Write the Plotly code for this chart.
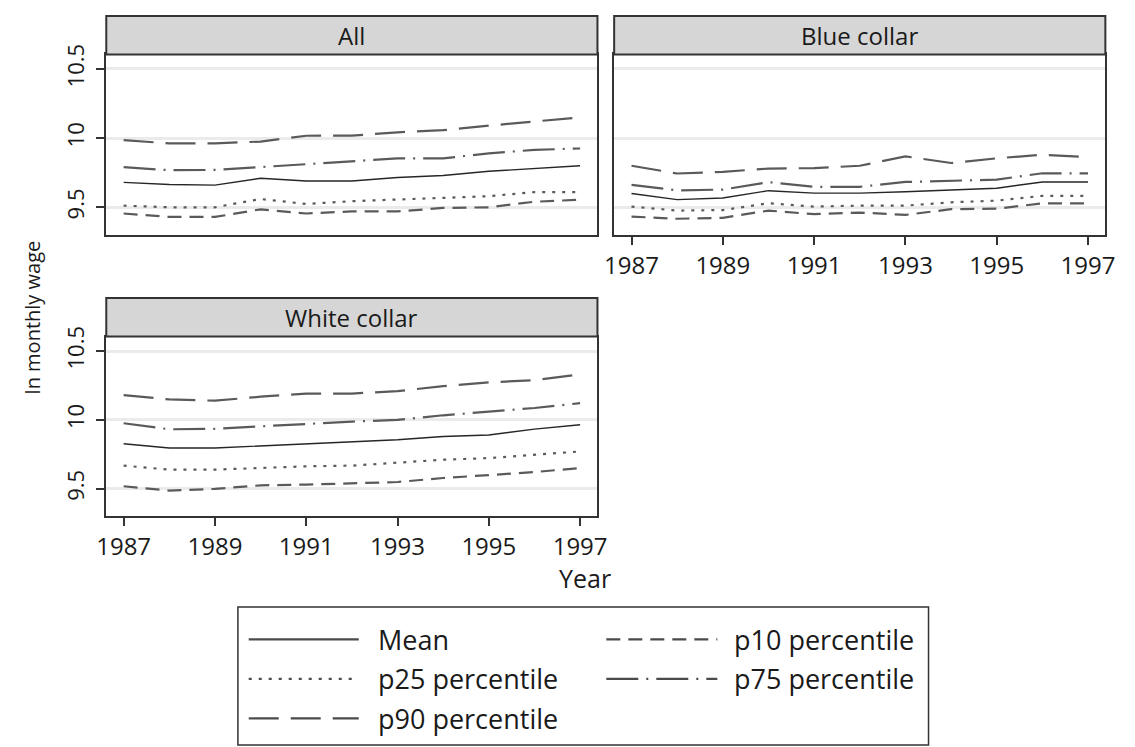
import plotly.graph_objects as go

years = list(range(1987, 1998))

# Panel "All"
mean_all = [9.68, 9.665, 9.66, 9.71, 9.69, 9.69, 9.715, 9.73, 9.76, 9.78, 9.80]
p10_all = [9.455, 9.43, 9.43, 9.485, 9.455, 9.47, 9.47, 9.495, 9.50, 9.54, 9.555]
p25_all = [9.512, 9.50, 9.50, 9.56, 9.524, 9.544, 9.556, 9.568, 9.58, 9.61, 9.61]
p75_all = [9.79, 9.768, 9.77, 9.79, 9.81, 9.833, 9.853, 9.853, 9.89, 9.915, 9.925]
p90_all = [9.985, 9.962, 9.962, 9.975, 10.017, 10.018, 10.042, 10.057, 10.09, 10.12, 10.15]

# Panel "Blue collar"
mean_blue = [9.60, 9.555, 9.567, 9.62, 9.602, 9.602, 9.612, 9.624, 9.638, 9.683, 9.683]
p10_blue = [9.433, 9.417, 9.424, 9.476, 9.45, 9.462, 9.445, 9.486, 9.49, 9.528, 9.528]
p25_blue = [9.505, 9.476, 9.48, 9.529, 9.505, 9.512, 9.512, 9.536, 9.548, 9.583, 9.583]
p75_blue = [9.662, 9.622, 9.628, 9.682, 9.648, 9.648, 9.683, 9.69, 9.70, 9.746, 9.745]
p90_blue = [9.80, 9.744, 9.756, 9.78, 9.783, 9.80, 9.868, 9.82, 9.854, 9.88, 9.862]

# Panel "White collar"
mean_white = [9.826, 9.795, 9.795, 9.81, 9.826, 9.838, 9.855, 9.879, 9.89, 9.932, 9.964]
p10_white = [9.517, 9.486, 9.498, 9.524, 9.529, 9.541, 9.548, 9.577, 9.597, 9.62, 9.65]
p25_white = [9.667, 9.638, 9.638, 9.65, 9.662, 9.667, 9.686, 9.71, 9.722, 9.746, 9.77]
p75_white = [9.975, 9.931, 9.935, 9.953, 9.969, 9.987, 9.999, 10.033, 10.059, 10.086, 10.121]
p90_white = [10.18, 10.148, 10.139, 10.168, 10.191, 10.191, 10.208, 10.245, 10.272, 10.288, 10.33]

panel_titles = ["All", "Blue collar", "White collar"]
series_names = ["Mean", "p10 percentile", "p25 percentile", "p75 percentile", "p90 percentile"]
x_ticks = [1987, 1989, 1991, 1993, 1995, 1997]
y_ticks = [9.5, 10, 10.5]
y_tick_text = ["9.5", "10", "10.5"]

panels = [
    [mean_all, p10_all, p25_all, p75_all, p90_all],
    [mean_blue, p10_blue, p25_blue, p75_blue, p90_blue],
    [mean_white, p10_white, p25_white, p75_white, p90_white],
]

W, H = 1135, 747
FONT = "Open Sans"
AX = "#333333"
TXT = "#1a1a1a"

styles = {
    "Mean": dict(color="#262626", width=1.4, dash="solid"),
    "p10 percentile": dict(color="#5a5a5a", width=2.2, dash="14px,8px"),
    "p25 percentile": dict(color="#5a5a5a", width=2.2, dash="3px,7px"),
    "p75 percentile": dict(color="#5a5a5a", width=2.2, dash="32px,8px,2px,8px"),
    "p90 percentile": dict(color="#5a5a5a", width=2.2, dash="30px,12px"),
}

def px(x):
    return x / W

def py(y):
    return 1 - y / H

# panel boxes in pixels: (left, right, plot top, plot bottom, header top)
boxes = [
    (98, 598, 45, 228, 6),
    (615, 1115, 45, 228, 6),
    (98, 598, 331, 513, 292),
]

fig = go.Figure()
axis_ids = ["", "2", "3"]
for i, (vals, box) in enumerate(zip(panels, boxes)):
    aid = axis_ids[i]
    for name, v in zip(series_names, vals):
        fig.add_trace(go.Scatter(
            x=years, y=v, mode="lines", name=name, showlegend=False,
            line=styles[name], xaxis="x" + aid, yaxis="y" + aid,
        ))
    l, r, t, b, ht = box
    show_x = i in (1, 2)
    show_y = i in (0, 2)
    fig.layout["xaxis" + aid] = dict(
        domain=[px(l), px(r)], anchor="y" + aid, range=[1986.62, 1997.38],
        tickvals=x_ticks, showticklabels=show_x,
        ticks="outside" if show_x else "", ticklen=8, tickwidth=1.5, tickcolor=AX,
        showline=True, linecolor=AX, linewidth=2, mirror=True,
        showgrid=False, zeroline=False, ticklabelstandoff=0,
        tickfont=dict(family=FONT, size=24, color=TXT),
    )
    fig.layout["yaxis" + aid] = dict(
        domain=[py(b), py(t)], anchor="x" + aid, range=[9.30, 10.605],
        tickvals=y_ticks, ticktext=y_tick_text, showticklabels=show_y,
        ticks="outside" if show_y else "", ticklen=8, tickwidth=1.5, tickcolor=AX,
        tickangle=-90, showline=True, linecolor=AX, linewidth=2, mirror=True,
        showgrid=True, gridcolor="#ebebeb", gridwidth=2.5, zeroline=False,
        ticklabelstandoff=3,
        tickfont=dict(family=FONT, size=22, color=TXT),
    )
    # header strip
    fig.add_shape(type="rect", xref="paper", yref="paper",
                  x0=px(l), x1=px(r), y0=py(t), y1=py(ht),
                  fillcolor="#d6d6d6", line=dict(color=AX, width=2), layer="above")
    fig.add_annotation(text=panel_titles[i], xref="paper", yref="paper",
                       x=(px(l) + px(r)) / 2, y=py((t + ht) / 2),
                       xanchor="center", yanchor="middle",
                       showarrow=False, font=dict(family=FONT, size=24, color=TXT))

# axis titles
fig.add_annotation(text="ln monthly wage", xref="paper", yref="paper",
                   x=px(23), y=py(312), textangle=-90, showarrow=False,
                   xanchor="center", yanchor="middle",
                   font=dict(family=FONT, size=20, color=TXT))
fig.add_annotation(text="Year", xref="paper", yref="paper",
                   x=px(585), y=py(576), showarrow=False,
                   xanchor="center", yanchor="middle",
                   font=dict(family=FONT, size=25, color=TXT))

# legend box
fig.add_shape(type="rect", xref="paper", yref="paper",
              x0=px(232), x1=px(935), y0=py(745), y1=py(605),
              line=dict(color=AX, width=1.5), fillcolor="rgba(0,0,0,0)")
legend_layout = [
    ("Mean", 243, 355, 373, 638),
    ("p10 percentile", 607, 720, 735, 638),
    ("p25 percentile", 243, 355, 373, 678),
    ("p75 percentile", 607, 720, 735, 678),
    ("p90 percentile", 243, 355, 373, 718),
]
for name, sx0, sx1, tx, yy in legend_layout:
    st = styles[name]
    fig.add_shape(type="line", xref="paper", yref="paper",
                  x0=px(sx0), x1=px(sx1), y0=py(yy), y1=py(yy),
                  line=dict(color="#4a4a4a", width=2.2, dash=st["dash"]))
    fig.add_annotation(text=name, xref="paper", yref="paper", x=px(tx), y=py(yy),
                       xanchor="left", yanchor="middle", showarrow=False,
                       font=dict(family=FONT, size=27, color=TXT))

fig.update_layout(
    width=W, height=H, margin=dict(l=0, r=0, t=0, b=0),
    paper_bgcolor="white", plot_bgcolor="white", showlegend=False,
)

fig.write_html("out.html")
